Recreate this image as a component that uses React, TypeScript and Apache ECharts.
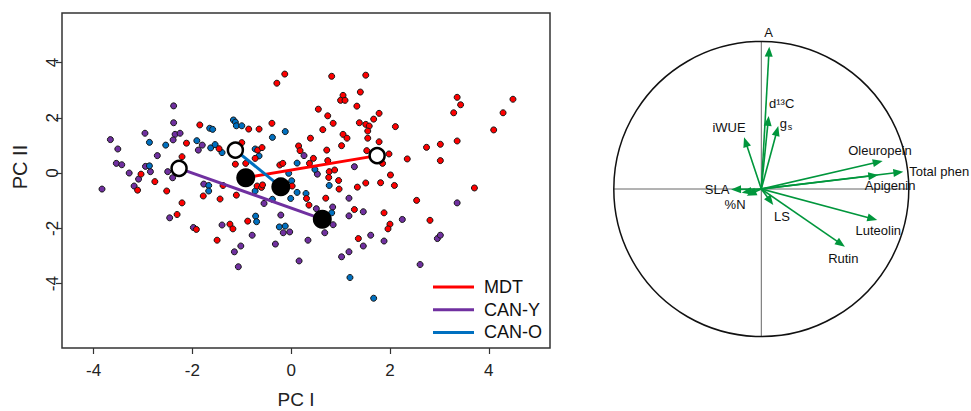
import React, { useEffect, useRef } from "react";
import * as echarts from "echarts";

// ---------------- Data (PCA scores) ----------------
const groupNames = ["MDT", "CAN-Y", "CAN-O"];
const groupColors = ["#FF0000", "#7030A0", "#0070C0"];

const mdtScores: number[][] = [
  [-0.13, 3.58], [-0.29, 3.25], [-1.85, 1.74], [-2.12, 1.08], [-2.21, 0.59], [-3.04, -0.04],
  [-0.86, 1.59], [-0.65, 1.59], [-0.39, 1.8], [-1.0, 1.1], [-1.46, 0.88], [-0.68, 0.83],
  [-0.59, 0.92], [-0.73, 0.53], [-1.13, 0.32], [-0.92, 0.35], [-0.23, 0.29], [-0.17, 0.35],
  [0.15, 0.98], [0.18, 0.81], [0.39, 1.26], [0.37, 0.35],
  [-3.11, -0.62], [-2.76, -0.31], [-2.52, -0.65], [-2.21, -1.08], [-2.31, -1.5], [-1.92, -2.04],
  [-1.78, -0.83], [-1.38, -0.45], [-1.44, -0.94], [-1.11, -0.8], [-1.24, -1.85], [-1.18, -2.02],
  [-1.5, -2.43], [-0.88, -1.74], [-0.69, -0.47], [-0.6, -0.52], [-0.58, -0.43], [0.02, -0.47],
  [0.31, -0.92], [0.36, -1.16],
  [0.76, -0.16], [0.96, -0.27], [0.97, -0.58], [1.34, -0.51], [1.51, -0.36], [1.81, -0.35],
  [2.09, -0.45], [2.01, -0.07], [0.7, -0.91], [1.28, -1.32], [1.88, -1.44], [2.0, -1.85],
  [1.96, -2.02], [1.36, -2.37], [2.54, -0.99], [2.81, -1.71], [3.71, -0.54],
  [0.82, 3.5], [1.51, 3.54], [1.4, 2.93], [1.05, 2.81], [1.0, 2.63], [1.09, 2.63], [1.33, 2.42],
  [0.55, 2.31], [0.74, 2.07], [0.85, 1.8], [0.64, 1.57], [1.78, 2.16], [1.67, 1.95], [1.38, 1.82],
  [1.51, 1.76], [1.58, 1.7], [1.55, 1.52], [1.05, 1.4], [1.13, 1.26], [1.55, 1.26], [1.78, 1.13],
  [1.02, 0.99], [0.72, 0.83], [1.53, 0.81], [2.11, 1.68], [0.45, 0.53], [0.74, 0.45], [0.77, 0.05],
  [0.88, 0.11], [1.98, 0.69], [1.85, 0.35], [2.35, 0.51], [2.74, 0.93], [3.02, 1.04], [3.02, 0.45],
  [3.36, 1.16], [3.36, 2.74], [3.43, 2.47], [3.29, 2.18], [4.1, 1.56], [4.29, 2.18], [4.49, 2.67],
];

const canYScores: number[][] = [
  [-2.38, 2.43], [-2.38, 1.82], [-3.66, 1.21], [-3.51, 0.87], [-2.96, 1.44], [-2.35, 1.4],
  [-2.25, 1.44], [-2.39, 1.2], [-2.71, 0.63], [-3.54, 0.35], [-3.43, 0.3], [-3.28, 0.0],
  [-2.95, 0.24], [-2.85, 0.05], [-2.5, 0.05], [-1.8, 1.01], [-1.88, 0.83], [0.26, 0.63],
  [-3.09, -0.22], [-2.4, -0.17],
  [-3.18, -0.47], [-3.83, -0.58], [-2.46, -1.62], [-1.98, -1.97], [-1.77, -0.4], [-1.4, -1.88],
  [-1.02, -2.64], [-1.15, -2.85], [-1.07, -3.39], [-0.79, -2.25], [-0.55, -1.1], [-0.21, -1.52],
  [-0.16, -2.16], [-0.03, -2.13], [-0.32, -2.57], [0.16, -3.18], [0.34, -2.43],
  [0.53, -0.04], [0.51, -1.29], [0.84, -1.23], [0.85, -1.87], [0.68, -2.16], [1.17, -0.91],
  [1.17, -1.55], [1.46, -1.4], [2.25, -1.68], [1.61, -2.25], [1.46, -2.64], [1.88, -2.46],
  [1.17, -2.85], [1.02, -3.03], [2.61, -3.31], [2.96, -2.37], [3.02, -2.25], [3.36, -1.08],
  [1.28, 0.23],
];

const canOScores: number[][] = [
  [-2.87, 1.11], [-2.87, 0.26], [-2.54, 1.01], [-1.91, 1.17], [-1.65, 1.62], [-1.59, 1.58],
  [-1.63, 0.91], [-1.54, 1.03], [-1.4, 0.74], [-1.17, 1.92], [-1.13, 1.84], [-1.11, 1.71],
  [-1.0, 1.71], [-0.38, 1.29], [-0.12, 1.5], [-0.73, 0.87], [-0.65, 0.62], [0.12, 0.36],
  [-0.05, -0.01],
  [-1.67, -0.45], [-1.67, -0.65], [-0.72, -1.56], [-0.7, -1.76], [-0.73, -0.65], [-0.38, -0.95],
  [-0.24, -1.95], [-0.12, -1.92], [0.01, -0.28], [-0.01, -0.92], [0.12, -0.7], [0.3, -0.74],
  [0.77, -0.45], [0.82, -1.44], [1.19, -3.78], [1.67, -4.53], [0.48, 0.13],
];

// centroids in order MDT, CAN-Y, CAN-O
const openCentroids: number[][] = [[1.74, 0.63], [-2.27, 0.17], [-1.13, 0.83]];
const filledCentroids: number[][] = [[-0.92, -0.17], [0.63, -1.67], [-0.21, -0.5]];

const xTicks = [-4, -2, 0, 2, 4];
const yTicks = [-4, -2, 0, 2, 4];

// ---------------- Data (correlation circle) ----------------
const variableNames = ["A", "d¹³C", "g", "iWUE", "SLA", "%N", "", "LS", "Oleuropein", "Total phen", "Apigenin", "Luteolin", "Rutin"];
const loadingPC1 = [0.054, 0.05, 0.115, -0.117, -0.205, -0.133, -0.099, 0.081, 0.823, 0.963, 0.793, 0.786, 0.567];
const loadingPC2 = [0.965, 0.495, 0.427, 0.351, -0.003, -0.025, -0.045, -0.108, 0.19, 0.117, 0.095, -0.21, -0.391];
const labelPC1 = [0.049, 0.138, 0.17, -0.219, -0.3, -0.178, 0, 0.14, 0.805, 1.003, 0.873, 0.793, 0.556];
const labelPC2 = [1.058, 0.583, 0.447, 0.42, 0.0, -0.108, 0, -0.188, 0.264, 0.122, 0.022, -0.278, -0.47];

const FONT = '"Liberation Sans", Arial, Helvetica, sans-serif';
const GREEN = "#00963C";

export default function App() {
  const ref = useRef<HTMLDivElement>(null);

  useEffect(() => {
    if (!ref.current) return;
    const chart = echarts.init(ref.current, undefined, { renderer: "svg" });

    const scatterSeries = [
      { data: canYScores, color: groupColors[1], name: groupNames[1] },
      { data: canOScores, color: groupColors[2], name: groupNames[2] },
      { data: mdtScores, color: groupColors[0], name: groupNames[0] },
    ].map((g) => ({
      type: "scatter",
      name: g.name + " scores",
      xAxisIndex: 0,
      yAxisIndex: 0,
      data: g.data,
      symbol: "circle",
      symbolSize: 6,
      itemStyle: { color: g.color, borderColor: "#151515", borderWidth: 1, opacity: 1 },
      silent: true,
      z: 2,
    }));

    const lineSeries = groupNames.map((n, i) => ({
      type: "line",
      name: n,
      xAxisIndex: 0,
      yAxisIndex: 0,
      data: [openCentroids[i], filledCentroids[i]],
      symbol: "none",
      lineStyle: { color: groupColors[i], width: 3 },
      silent: true,
      z: 3,
    }));

    const legendGraphics: any[] = [];
    groupNames.forEach((n, i) => {
      const y = 287 + i * 22.7;
      legendGraphics.push({
        type: "line",
        shape: { x1: 433, y1: y, x2: 474, y2: y },
        style: { stroke: groupColors[i], lineWidth: 3 },
        z: 10,
      });
      legendGraphics.push({
        type: "text",
        x: 484,
        y: y,
        style: { text: n, fontSize: 18, fontFamily: FONT, fill: "#111", verticalAlign: "middle", align: "left" },
        z: 10,
      });
    });

    const option: any = {
      animation: false,
      backgroundColor: "#fff",
      grid: [
        { left: 62, top: 13, width: 488, height: 335, show: true, borderColor: "#333", borderWidth: 1.5, backgroundColor: "transparent" },
        { left: 613.8, top: 41.5, width: 295, height: 295, show: false },
      ],
      xAxis: [
        {
          type: "value",
          gridIndex: 0,
          position: "bottom",
          min: -4.64,
          max: 5.24,
          axisLine: { show: false, onZero: false },
          splitLine: { show: false },
          axisTick: { show: true, customValues: xTicks, length: 6, lineStyle: { color: "#333", width: 1.2 } },
          axisLabel: { customValues: xTicks, fontSize: 17, fontFamily: FONT, color: "#222", margin: 14 },
        },
        { type: "value", gridIndex: 1, min: -1, max: 1, show: false },
      ],
      yAxis: [
        {
          type: "value",
          gridIndex: 0,
          position: "left",
          min: -6.33,
          max: 5.79,
          axisLine: { show: false, onZero: false },
          splitLine: { show: false },
          axisTick: { show: true, customValues: yTicks, length: 6, lineStyle: { color: "#333", width: 1.2 } },
          axisLabel: { customValues: yTicks, fontSize: 17, fontFamily: FONT, color: "#222", margin: 1, rotate: 90 },
        },
        { type: "value", gridIndex: 1, min: -1, max: 1, show: false },
      ],
      graphic: [
        {
          type: "text",
          x: 296,
          y: 399,
          style: { text: "PC I", fontSize: 19, fontFamily: FONT, fill: "#222", align: "center", verticalAlign: "middle" },
        },
        {
          type: "text",
          x: 20,
          y: 167,
          rotation: Math.PI / 2,
          style: { text: "PC II", fontSize: 20, fontFamily: FONT, fill: "#222", align: "center", verticalAlign: "middle" },
        },
        ...legendGraphics,
      ],
      series: [
        ...scatterSeries,
        ...lineSeries,
        {
          type: "scatter",
          name: "open centroids",
          xAxisIndex: 0,
          yAxisIndex: 0,
          data: openCentroids,
          symbolSize: 15,
          itemStyle: { color: "#fff", borderColor: "#000", borderWidth: 2.5, opacity: 1 },
          silent: true,
          z: 4,
        },
        {
          type: "scatter",
          name: "filled centroids",
          xAxisIndex: 0,
          yAxisIndex: 0,
          data: filledCentroids,
          symbolSize: 19,
          itemStyle: { color: "#000", opacity: 1 },
          silent: true,
          z: 4,
        },
        {
          type: "custom",
          name: "circle",
          coordinateSystem: "cartesian2d",
          xAxisIndex: 1,
          yAxisIndex: 1,
          data: [[0, 0]],
          silent: true,
          renderItem: (params: any, api: any) => {
            const c = api.coord([0, 0]);
            const l = api.coord([-1, 0]);
            const r = api.coord([1, 0]);
            const t = api.coord([0, 1]);
            const b = api.coord([0, -1]);
            const rad = (r[0] - l[0]) / 2;
            return {
              type: "group",
              children: [
                { type: "line", shape: { x1: l[0], y1: l[1], x2: r[0], y2: r[1] }, style: { stroke: "#666", lineWidth: 1 } },
                { type: "line", shape: { x1: t[0], y1: t[1], x2: b[0], y2: b[1] }, style: { stroke: "#666", lineWidth: 1 } },
                { type: "circle", shape: { cx: c[0], cy: c[1], r: rad }, style: { fill: "none", stroke: "#111", lineWidth: 1.5 } },
              ],
            };
          },
          z: 2,
        },
        {
          type: "custom",
          name: "loadings",
          coordinateSystem: "cartesian2d",
          xAxisIndex: 1,
          yAxisIndex: 1,
          data: loadingPC1.map((v, i) => [v, loadingPC2[i]]),
          silent: true,
          renderItem: (params: any, api: any) => {
            const p0 = api.coord([0, 0]);
            const p1 = api.coord([api.value(0), api.value(1)]);
            const dx = p1[0] - p0[0];
            const dy = p1[1] - p0[1];
            const len = Math.sqrt(dx * dx + dy * dy) || 1;
            const ux = dx / len;
            const uy = dy / len;
            const hl = 10;
            const hw = 4;
            const bx = p1[0] - ux * hl;
            const by = p1[1] - uy * hl;
            return {
              type: "group",
              children: [
                {
                  type: "line",
                  shape: { x1: p0[0], y1: p0[1], x2: p1[0] - ux * (hl - 2), y2: p1[1] - uy * (hl - 2) },
                  style: { stroke: GREEN, lineWidth: 1.6 },
                },
                {
                  type: "polygon",
                  shape: { points: [[p1[0], p1[1]], [bx - uy * hw, by + ux * hw], [bx + uy * hw, by - ux * hw]] },
                  style: { fill: GREEN },
                },
              ],
            };
          },
          z: 3,
        },
        {
          type: "custom",
          name: "loading labels",
          coordinateSystem: "cartesian2d",
          xAxisIndex: 1,
          yAxisIndex: 1,
          data: labelPC1.map((v, i) => [v, labelPC2[i]]),
          silent: true,
          renderItem: (params: any, api: any) => {
            const i = params.dataIndex;
            const name = variableNames[i];
            if (!name) return null;
            const p = api.coord([api.value(0), api.value(1)]);
            const align = name === "Total phen" ? "left" : "center";
            if (name === "g") {
              return {
                type: "group",
                children: [
                  { type: "text", x: p[0] - 3, y: p[1], style: { text: "g", fontSize: 13, fontFamily: FONT, fill: "#111", align: "center", verticalAlign: "middle" } },
                  { type: "text", x: p[0] + 3.5, y: p[1] + 4, style: { text: "s", fontSize: 9, fontFamily: FONT, fill: "#111", align: "center", verticalAlign: "middle" } },
                ],
              };
            }
            return {
              type: "text",
              x: p[0],
              y: p[1],
              style: { text: name, fontSize: 13, fontFamily: FONT, fill: "#111", align, verticalAlign: "middle" },
            };
          },
          z: 4,
        },
      ],
    };

    chart.setOption(option);
    return () => chart.dispose();
  }, []);

  return <div ref={ref} style={{ position: "fixed", left: 0, top: 0, width: 971, height: 411 }} />;
}
